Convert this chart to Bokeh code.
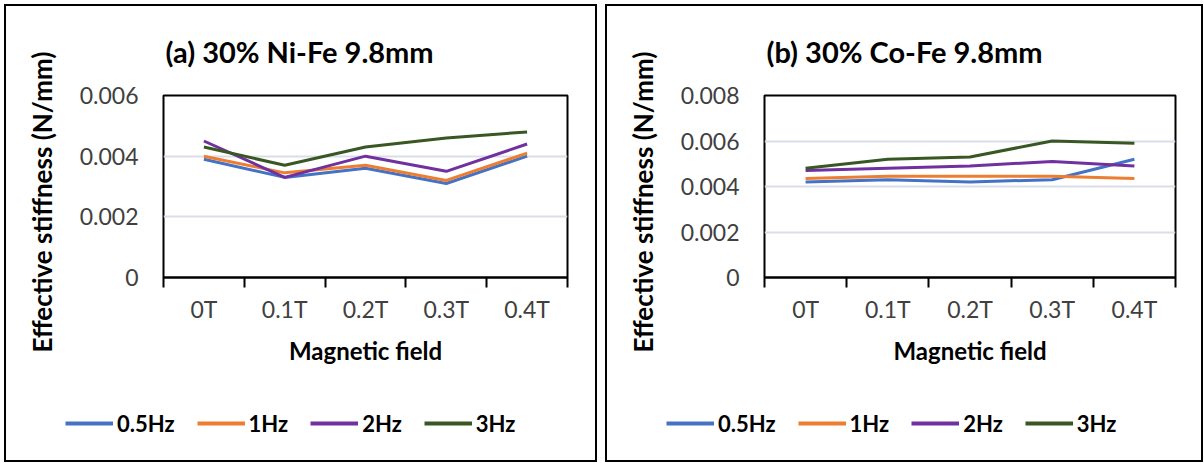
from bokeh.plotting import figure
from bokeh.models import Range1d, FixedTicker, Legend, LegendItem, Title
from bokeh.layouts import row, column
from bokeh.embed import file_html
from bokeh.resources import INLINE

# Categories and series
fields = ["0T", "0.1T", "0.2T", "0.3T", "0.4T"]
freqs = ["0.5Hz", "1Hz", "2Hz", "3Hz"]

# (a) 30% Ni-Fe 9.8mm, effective stiffness in N/mm
nife_05hz = [0.0039, 0.0033, 0.0036, 0.0031, 0.0040]
nife_1hz = [0.0040, 0.00345, 0.0037, 0.0032, 0.0041]
nife_2hz = [0.0045, 0.0033, 0.0040, 0.0035, 0.0044]
nife_3hz = [0.0043, 0.0037, 0.0043, 0.0046, 0.0048]

# (b) 30% Co-Fe 9.8mm, effective stiffness in N/mm
cofe_05hz = [0.0042, 0.0043, 0.0042, 0.0043, 0.0052]
cofe_1hz = [0.00435, 0.00445, 0.00445, 0.00445, 0.00435]
cofe_2hz = [0.0047, 0.0048, 0.0049, 0.0051, 0.0049]
cofe_3hz = [0.0048, 0.0052, 0.0053, 0.0060, 0.0059]

# Y tick values / labels
nife_yticks = [0, 0.002, 0.004, 0.006]
nife_ylabels = ["0", "0.002", "0.004", "0.006"]
cofe_yticks = [0, 0.002, 0.004, 0.006, 0.008]
cofe_ylabels = ["0", "0.002", "0.004", "0.006", "0.008"]

colors = ["#4472C4", "#ED7D31", "#7030A0", "#385723"]
FONT = "Lato"
CHART_H = 380
LEGEND_H = 74


def chart(title, series, yticks, ylabels, width, border_right):
    n = len(fields)
    centers = [i + 0.5 for i in range(n)]
    bounds = list(range(n + 1))

    p = figure(width=width, height=CHART_H, output_backend="svg", toolbar_location=None,
               x_range=Range1d(0, n), y_range=Range1d(yticks[0], yticks[-1]),
               min_border_left=157, min_border_right=border_right,
               min_border_top=89, min_border_bottom=CHART_H - 271)
    p.frame_align = False
    p.background_fill_color = "white"
    p.border_fill_color = "white"
    p.outline_line_color = "black"
    p.outline_line_width = 2

    p.title.text = title
    p.title.text_font = FONT
    p.title.text_font_style = "bold"
    p.title.text_font_size = "29px"
    p.title.text_color = "black"
    p.title.align = "left"
    p.title.offset = 2
    p.title.vertical_align = "top"
    p.title.standoff = 50

    # x axis: labels centred on categories, ticks on category boundaries
    xa = p.xaxis[0]
    xa.ticker = FixedTicker(ticks=centers, minor_ticks=bounds)
    xa.major_label_overrides = {c: f for c, f in zip(centers, fields)}
    xa.major_tick_line_color = None
    xa.major_tick_out = 10
    xa.major_tick_in = 0
    xa.minor_tick_line_color = "black"
    xa.minor_tick_line_width = 2
    xa.minor_tick_out = 10
    xa.minor_tick_in = 0
    xa.axis_line_color = "black"
    xa.axis_line_width = 2
    xa.major_label_text_font = FONT
    xa.major_label_text_font_size = "23px"
    xa.major_label_text_color = "#404040"
    xa.major_label_standoff = 7
    xa.axis_label = "Magnetic field"
    xa.axis_label_text_font = FONT
    xa.axis_label_text_font_style = "bold"
    xa.axis_label_text_font_size = "24px"
    xa.axis_label_text_color = "black"
    xa.axis_label_standoff = 10

    ya = p.yaxis[0]
    ya.ticker = FixedTicker(ticks=yticks)
    ya.major_label_overrides = {t: l for t, l in zip(yticks, ylabels)}
    ya.axis_line_color = None
    ya.major_tick_line_color = None
    ya.minor_tick_line_color = None
    ya.major_tick_out = 0
    ya.major_tick_in = 0
    ya.major_label_standoff = 25
    ya.major_label_text_font = FONT
    ya.major_label_text_font_size = "23px"
    ya.major_label_text_color = "#404040"

    # y axis title, shifted down along the left side
    ytitle = Title(text="Effective stiffness (N/mm)", align="left", offset=-75,
                   vertical_align="middle", standoff=36,
                   text_font=FONT, text_font_style="bold", text_font_size="26px",
                   text_color="black")
    p.add_layout(ytitle, "left")

    p.xgrid.visible = False
    p.ygrid.grid_line_color = "#D9DEE8"
    p.ygrid.grid_line_width = 2

    for vals, col in zip(series, colors):
        p.line(centers, vals, line_color=col, line_width=3, line_join="round")
    return p


def legend_strip(width, series):
    n = len(fields)
    centers = [i + 0.5 for i in range(n)]
    q = figure(width=width, height=LEGEND_H, output_backend="svg", toolbar_location=None,
               x_range=Range1d(0, n), y_range=Range1d(0, 1),
               x_axis_location=None, y_axis_location=None,
               min_border=0, min_border_left=0, min_border_right=0,
               min_border_top=0, min_border_bottom=0)
    q.frame_align = False
    q.outline_line_color = None
    q.grid.visible = False
    q.background_fill_color = "white"
    q.border_fill_color = "white"
    items = []
    for name, vals, col in zip(freqs, series, colors):
        # hidden series renderer that only supplies the legend swatch
        r = q.line(centers, vals, line_color=col, line_width=4, visible=False)
        items.append(LegendItem(label=name, renderers=[r]))
    leg = Legend(items=items, orientation="horizontal", location=(59, 23),
                 padding=0, margin=0, spacing=22, label_standoff=4,
                 glyph_width=48, glyph_height=28,
                 inactive_fill_alpha=0,
                 label_text_font=FONT, label_text_font_style="bold",
                 label_text_font_size="22px", label_text_color="black",
                 border_line_color=None, background_fill_alpha=0)
    q.add_layout(leg, "center")
    return q


def panel(title, series, yticks, ylabels, width, border_right, margin):
    return column(chart(title, series, yticks, ylabels, width, border_right),
                  legend_strip(width, series), spacing=0, margin=margin,
                  styles={"border": "2px solid black"})


pa = panel("(a) 30% Ni-Fe 9.8mm", [nife_05hz, nife_1hz, nife_2hz, nife_3hz],
           nife_yticks, nife_ylabels, 589, 28, (4, 0, 0, 4))
pb = panel("(b) 30% Co-Fe 9.8mm", [cofe_05hz, cofe_1hz, cofe_2hz, cofe_3hz],
           cofe_yticks, cofe_ylabels, 594, 26, (4, 0, 0, 8))

layout = row(pa, pb)
open("out.html", "w").write(file_html(layout, INLINE))
